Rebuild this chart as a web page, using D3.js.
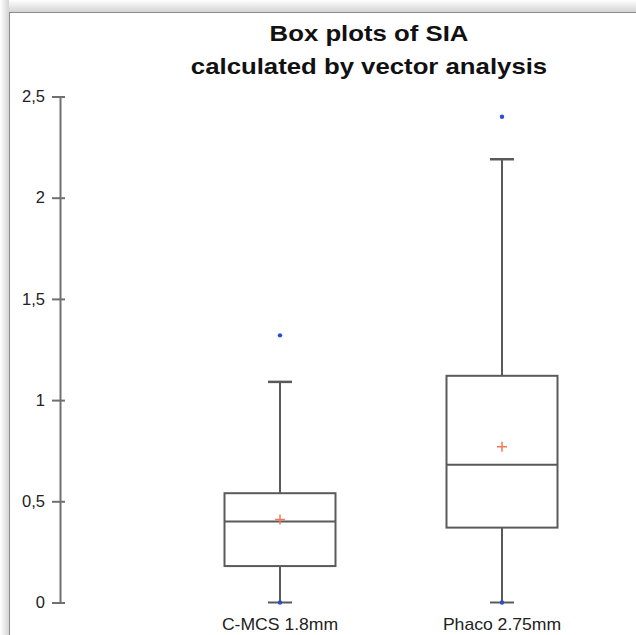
<!DOCTYPE html>
<html>
<head>
<meta charset="utf-8">
<script src="https://cdn.jsdelivr.net/npm/d3@7"></script>
<style>
  html, body { margin: 0; padding: 0; background: #fff; }
  svg { display: block; }
</style>
</head>
<body>
<svg id="chart" width="636" height="635"></svg>
<script>
// ---- data ----
const categories = ["C-MCS 1.8mm", "Phaco 2.75mm"];
const whiskerLow = [0, 0];
const q1 = [0.18, 0.37];
const median = [0.40, 0.68];
const q3 = [0.54, 1.12];
const whiskerHigh = [1.09, 2.19];
const means = [0.41, 0.77];
const minPoints = [0, 0];
const maxPoints = [1.32, 2.40];
const yTicks = [0, 0.5, 1, 1.5, 2, 2.5];
const titleLines = ["Box plots of SIA", "calculated by vector analysis"];

// ---- drawing ----
const svg = d3.select("#chart");
const W = 636, H = 635;

// page shadow & frame
const defs = svg.append("defs");
const gTop = defs.append("linearGradient").attr("id", "shTop").attr("x1", 0).attr("y1", 0).attr("x2", 0).attr("y2", 1);
gTop.append("stop").attr("offset", "0%").attr("stop-color", "#ffffff");
gTop.append("stop").attr("offset", "100%").attr("stop-color", "#d4d4d4");
const gLeft = defs.append("linearGradient").attr("id", "shLeft").attr("x1", 0).attr("y1", 0).attr("x2", 1).attr("y2", 0);
gLeft.append("stop").attr("offset", "0%").attr("stop-color", "#ffffff");
gLeft.append("stop").attr("offset", "100%").attr("stop-color", "#d4d4d4");

svg.append("rect").attr("x", 0).attr("y", 0).attr("width", W).attr("height", 12).attr("fill", "url(#shTop)");
svg.append("rect").attr("x", 0).attr("y", 0).attr("width", 9).attr("height", H).attr("fill", "url(#shLeft)");
svg.append("rect").attr("x", 9.5).attr("y", 12.5).attr("width", W).attr("height", H)
  .attr("fill", "#ffffff").attr("stroke", "#8a8a8a").attr("stroke-width", 1);

const y = d3.scaleLinear().domain([0, 2.5]).range([602.5, 96.5]);
const x = d3.scaleBand().domain(categories).range([169, 613]).paddingInner(0.5).paddingOuter(0.25);
const axisX = 60;

// title
svg.append("g").selectAll("text").data(titleLines).join("text")
  .attr("transform", (d, i) => `translate(369,${41 + i * 33}) scale(1.12,1)`)
  .attr("text-anchor", "middle")
  .attr("font-family", "Liberation Sans, Arial, sans-serif")
  .attr("font-weight", "bold")
  .attr("font-size", 23)
  .attr("fill", "#111")
  .text(d => d);

// y axis
const yAxis = d3.axisLeft(y).tickValues(yTicks)
  .tickFormat(d => String(d).replace(".", ","))
  .tickSizeOuter(0).tickSizeInner(8).tickPadding(7);
const ag = svg.append("g").attr("transform", `translate(${axisX},0)`).call(yAxis);
ag.select(".domain").attr("stroke", "#707070").attr("stroke-width", 2);
ag.selectAll(".tick line").attr("x1", -8).attr("x2", 5).attr("stroke", "#707070").attr("stroke-width", 2);
ag.selectAll(".tick text")
  .attr("font-family", "Liberation Sans, Arial, sans-serif")
  .attr("font-size", 16.5)
  .attr("fill", "#222");

// boxes
const stroke = "#5a5a5a";
const bw = x.bandwidth();
const capW = 24;
const g = svg.append("g");
categories.forEach((c, i) => {
  const cx = x(c) + bw / 2;
  const bx = g.append("g");
  // whiskers
  bx.append("line").attr("x1", cx).attr("x2", cx).attr("y1", y(q3[i])).attr("y2", y(whiskerHigh[i]))
    .attr("stroke", stroke).attr("stroke-width", 2);
  bx.append("line").attr("x1", cx).attr("x2", cx).attr("y1", y(q1[i])).attr("y2", y(whiskerLow[i]))
    .attr("stroke", stroke).attr("stroke-width", 2);
  bx.append("line").attr("x1", cx - capW / 2).attr("x2", cx + capW / 2).attr("y1", y(whiskerHigh[i])).attr("y2", y(whiskerHigh[i]))
    .attr("stroke", stroke).attr("stroke-width", 2.5);
  bx.append("line").attr("x1", cx - capW / 2).attr("x2", cx + capW / 2).attr("y1", y(whiskerLow[i])).attr("y2", y(whiskerLow[i]))
    .attr("stroke", stroke).attr("stroke-width", 2);
  // box
  bx.append("rect").attr("x", x(c)).attr("y", y(q3[i])).attr("width", bw).attr("height", y(q1[i]) - y(q3[i]))
    .attr("fill", "none").attr("stroke", stroke).attr("stroke-width", 2);
  bx.append("line").attr("x1", x(c)).attr("x2", x(c) + bw).attr("y1", y(median[i])).attr("y2", y(median[i]))
    .attr("stroke", stroke).attr("stroke-width", 2);
  // mean marker
  const m = y(means[i]);
  bx.append("path").attr("d", `M${cx - 5},${m}H${cx + 5}M${cx},${m - 5}V${m + 5}`)
    .attr("stroke", "#f07a55").attr("stroke-width", 1.5).attr("fill", "none");
  // min / max points
  bx.append("circle").attr("cx", cx).attr("cy", y(minPoints[i])).attr("r", 2.2).attr("fill", "#2a4fc8");
  bx.append("circle").attr("cx", cx).attr("cy", y(maxPoints[i])).attr("r", 2.2).attr("fill", "#2a4fc8");
});

// category labels
svg.append("g").selectAll("text").data(categories).join("text")
  .attr("transform", d => `translate(${x(d) + bw / 2},${630}) scale(1.1,1)`)
  .attr("text-anchor", "middle")
  .attr("font-family", "Liberation Sans, Arial, sans-serif")
  .attr("font-size", 16)
  .attr("fill", "#222")
  .text(d => d);
</script>
</body>
</html>
